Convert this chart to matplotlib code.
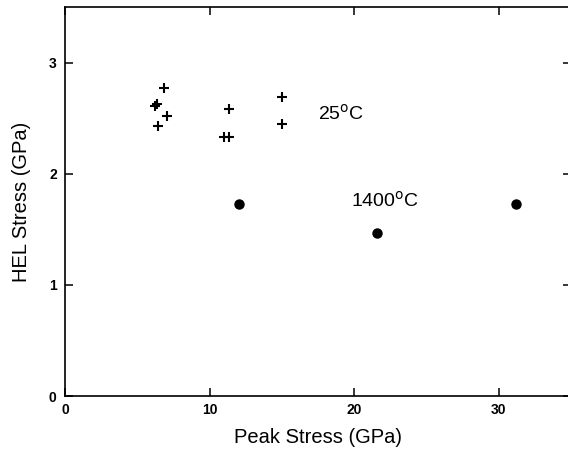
import matplotlib
matplotlib.use("Agg")
import matplotlib.pyplot as plt

plt.rcParams['font.family'] = ['Liberation Sans', 'DejaVu Sans']

# 25 C shots (crosses)
peak_25 = [6.84, 6.2, 6.35, 7.07, 6.45, 11.35, 11.0, 11.33, 14.98, 14.98]
hel_25 = [2.77, 2.61, 2.63, 2.52, 2.43, 2.58, 2.33, 2.33, 2.69, 2.45]

# 1400 C shots (filled circles)
peak_1400 = [12.05, 21.6, 31.2]
hel_1400 = [1.73, 1.47, 1.73]

fig = plt.figure(figsize=(5.68, 4.49), dpi=100)
ax = fig.add_axes([65/568, 53/449, 506/568, 389/449])

ax.plot(peak_25, hel_25, '+', color='black', markersize=7.5, markeredgewidth=1.5)
ax.plot(peak_1400, hel_1400, 'o', color='black', markersize=6.5)

ax.text(17.5, 2.54, r'25$^{\rm o}$C', fontsize=14, va='center', ha='left')
ax.text(19.8, 1.76, r'1400$^{\rm o}$C', fontsize=14, va='center', ha='left')

ax.set_xlim(0, 35)
ax.set_ylim(0, 3.5)
ax.set_xticks([0, 10, 20, 30])
ax.set_yticks([0, 1, 2, 3])
ax.tick_params(direction='in', length=6, width=1.1, top=True, right=True,
               labelsize=10)
ax.tick_params(axis='x', pad=5)
ax.tick_params(axis='y', pad=6)
for lab in ax.get_xticklabels() + ax.get_yticklabels():
    lab.set_fontweight('bold')
for s in ax.spines.values():
    s.set_linewidth(1.2)

ax.set_xlabel('Peak Stress (GPa)', fontsize=14.5, labelpad=8)
ax.set_ylabel('HEL Stress (GPa)', fontsize=14.5, labelpad=13)

fig.savefig('out.png', dpi=100)
